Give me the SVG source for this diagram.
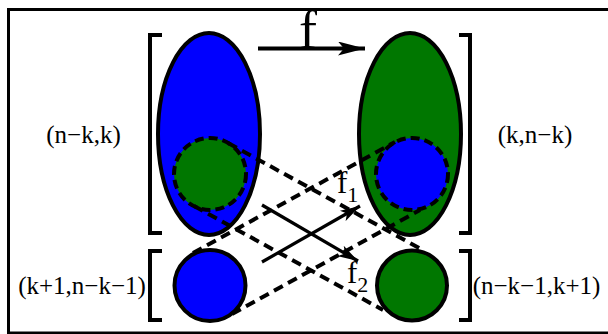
<svg xmlns="http://www.w3.org/2000/svg" width="608" height="334" viewBox="0 0 608 334">
<style>
.lbl{font-family:"Liberation Serif","Times New Roman",serif;font-size:25px;fill:#000}
.br{fill:none;stroke:#000;stroke-width:4}
.dash{fill:none;stroke:#000;stroke-width:4;stroke-dasharray:10,6}
.dc{stroke:#000;stroke-width:4;stroke-dasharray:9,5}
.solid{stroke:#000;stroke-width:4}
.arr{fill:none;stroke:#000;stroke-width:3.2}
</style>
<defs>
<marker id="ah" viewBox="0 0 20 12" refX="20" refY="6" markerWidth="20" markerHeight="12" markerUnits="userSpaceOnUse" orient="auto">
<path d="M0,0 L20,6 L0,12 L5,6 Z" fill="#000"/>
</marker>
<marker id="ahf" viewBox="0 0 27 14" refX="27" refY="7" markerWidth="27" markerHeight="14" markerUnits="userSpaceOnUse" orient="auto">
<path d="M0,0 L27,7 L0,14 L6,7 Z" fill="#000"/>
</marker>
</defs>
<rect x="8.5" y="9.5" width="612" height="323.5" fill="#fff" stroke="#000" stroke-width="3"/>
<g id="left-big">
<ellipse class="solid" cx="209" cy="134" rx="51" ry="101" fill="#0000ff"/>
<circle class="dc" cx="210" cy="174" r="36" fill="#007700"/>
</g>
<g id="right-big">
<ellipse class="solid" cx="410" cy="134" rx="51" ry="101" fill="#007700"/>
<circle class="dc" cx="412" cy="174" r="36" fill="#0000ff"/>
</g>
<g id="left-small">
<circle class="solid" cx="210" cy="285.5" r="35.5" fill="#0000ff"/>
</g>
<g id="right-small">
<circle class="solid" cx="412" cy="285.5" r="35" fill="#007700"/>
</g>
<g id="brackets">
<path class="br" d="M162,35 H150 V233 H162"/>
<path class="br" d="M459,35 H470 V233 H459"/>
<path class="br" d="M162,251 H150 V320 H162"/>
<path class="br" d="M459,251 H470 V320 H459"/>
</g>
<g id="connectors">
<line class="dash" x1="228" y1="143" x2="421" y2="249"/>
<line class="dash" x1="194" y1="206" x2="383" y2="310"/>
<line class="dash" x1="193" y1="253" x2="395" y2="142"/>
<line class="dash" x1="232" y1="314" x2="420" y2="210"/>
<line class="arr" x1="262" y1="262" x2="360" y2="206" marker-end="url(#ah)"/>
<line class="arr" x1="262" y1="205" x2="358" y2="261" marker-end="url(#ah)"/>
<line x1="258" y1="48.5" x2="365" y2="48.5" stroke="#000" stroke-width="4" marker-end="url(#ahf)"/>
</g>
<g id="labels">
<text class="lbl" x="308" y="48" text-anchor="middle" style="font-size:54px">f</text>
<text class="lbl" x="337" y="193" style="font-size:31px">f<tspan dy="9" style="font-size:22px">1</tspan></text>
<text class="lbl" x="347" y="283" style="font-size:31px">f<tspan dy="9" style="font-size:22px">2</tspan></text>
<text class="lbl" x="83.5" y="143" text-anchor="middle">(n−k,k)</text>
<text class="lbl" x="535" y="143" text-anchor="middle">(k,n−k)</text>
<text class="lbl" x="82" y="293.5" text-anchor="middle">(k+1,n−k−1)</text>
<text class="lbl" x="536.5" y="293.5" text-anchor="middle">(n−k−1,k+1)</text>
</g>
</svg>
